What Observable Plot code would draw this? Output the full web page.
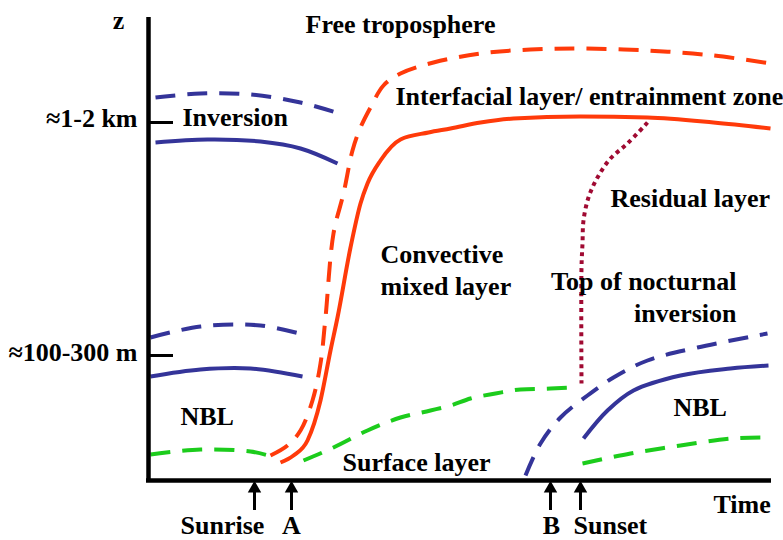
<!DOCTYPE html>
<html>
<head>
<meta charset="utf-8">
<script src="https://cdn.jsdelivr.net/npm/d3@7"></script>
<script src="https://cdn.jsdelivr.net/npm/@observablehq/plot@0.6"></script>
<style>
  html, body { margin: 0; padding: 0; background: #fff; }
  svg { overflow: visible; display: block; }
</style>
</head>
<body>
<div id="chart"></div>
<script>
// Schematic curves: [time, height] in arbitrary units
const inversionTopDay = [[7,383],[52,387],[102,386],[152,378],[194,366]];
const inversionBaseDay = [[7,338],[59,341],[112,339],[152,332],[189,317]];
const nblTopMorning = [[2,143],[52,154],[112,155],[155,146]];
const nblBaseMorning = [[2,104],[52,111],[102,112],[154,104]];
const surfaceMorning = [[2,26],[52,31],[102,29],[120,25]];
const entrainmentTop = [[122,25],[139,35],[152,50],[164,80],[172,117],[177,163],[185,247],[195,287],[204,330],[212,353],[222,373],[235,395],[252,407],[285,418],[332,427],[382,431],[432,432],[499,430],[565,425],[622,417]];
const mixedLayerTop = [[132,18],[145,25],[159,40],[172,80],[182,130],[189,163],[202,233],[212,277],[219,297],[232,320],[252,341],[280,348],[302,352],[332,358],[365,362],[432,364],[499,363],[565,358],[622,352]];
const residualTop = [[499,358],[479,337],[462,322],[449,303],[440,283],[435,260],[434,237],[433,213],[433,97]];
const surfaceDay = [[155,20],[185,33],[219,50],[252,63],[282,70],[302,75],[322,82],[347,87],[372,91],[402,92],[424,93]];
const nocturnalTopEvening = [[377,5],[392,37],[412,63],[439,85],[465,103],[499,120],[549,133],[619,147]];
const nblTopEvening = [[435,42],[459,70],[485,90],[532,105],[582,112],[620,115]];
const surfaceEvening = [[434,17],[482,27],[532,35],[582,42],[620,43]];

// Axis ticks (height) and their labels
const tickHeights = [358, 125];
const tickLabels = ["≈1-2 km", "≈100-300 m"];
const tickLabelHeights = [364, 130];

// Time markers
const markerTimes = [106, 143, 402, 432];
const markerNames = ["Sunrise", "A", "B", "Sunset"];
const markerLabelTimes = [32, 143, 403, 425];
const markerAnchors = ["start", "middle", "middle", "start"];

// Region labels
const labelTexts = ["z", "Free troposphere", "Inversion", "Interfacial layer/ entrainment zone", "Residual layer", "Convective\nmixed layer", "Top of nocturnal\ninversion", "NBL", "NBL", "Surface layer", "Time"];
const labelTimes = [-30, 252, 34, 247, 462, 232, 588, 32, 525, 194, 565];
const labelHeights = [462, 458, 365, 386, 284, 212, 185, 66, 75, 20, -22];
const labelAnchors = ["middle", "middle", "start", "start", "start", "start", "end", "start", "start", "start", "start"];

const labels = labelTexts.map((t, i) => ({text: t, t: labelTimes[i], z: labelHeights[i], anchor: labelAnchors[i]}))
  .concat(tickLabels.map((t, i) => ({text: t, t: -11, z: tickLabelHeights[i], anchor: "end"})))
  .concat(markerNames.map((t, i) => ({text: t, t: markerLabelTimes[i], z: -43, anchor: markerAnchors[i]})));

const BLUE = "#343499", RED = "#ff3a0a", GREEN = "#1ccc1c", DARKRED = "#a00a32";
const font = {fontFamily: "Liberation Serif, Times New Roman, serif", fontWeight: "bold", fontSize: 26, fill: "#000"};
const curve = (data, stroke, dash, c = "catmull-rom") => Plot.line(data, {x: d => d[0], y: d => d[1], curve: c, stroke, strokeWidth: 4, strokeDasharray: dash, strokeLinecap: "butt"});

const textMarks = ["start", "middle", "end"].map(a =>
  Plot.text(labels.filter(d => d.anchor === a), {x: "t", y: "z", text: "text", textAnchor: a, lineHeight: 1.25, ...font}));

const chart = Plot.plot({
  width: 783,
  height: 540,
  marginLeft: 148,
  marginRight: 12,
  marginTop: 17,
  marginBottom: 60,
  x: {domain: [0, 623], axis: null},
  y: {domain: [0, 463], axis: null},
  style: {background: "#fff", overflow: "visible"},
  marks: [
    curve(inversionTopDay, BLUE, "20,12"),
    curve(inversionBaseDay, BLUE, null),
    curve(nblTopMorning, BLUE, "20,12"),
    curve(nblBaseMorning, BLUE, null),
    curve(surfaceMorning, GREEN, "20,12"),
    curve(entrainmentTop, RED, "20,12"),
    curve(mixedLayerTop, RED, null, "monotone-x"),
    curve(residualTop, DARKRED, "4,4"),
    curve(surfaceDay, GREEN, "20,12", "monotone-x"),
    curve(nocturnalTopEvening, BLUE, "20,12"),
    curve(nblTopEvening, BLUE, null),
    curve(surfaceEvening, GREEN, "20,12"),
    // axes
    Plot.ruleX([0], {y1: -2, y2: 463, stroke: "#000", strokeWidth: 4.5}),
    Plot.ruleY([0], {x1: -2, x2: 623, stroke: "#000", strokeWidth: 4.5}),
    Plot.ruleY(tickHeights, {x1: 0, x2: 25, stroke: "#000", strokeWidth: 3}),
    // time marker arrows
    Plot.ruleX(markerTimes, {y1: -30, y2: -8, stroke: "#000", strokeWidth: 3}),
    Plot.dot(markerTimes, {x: d => d, y: -8, symbol: "triangle", r: 5, fill: "#000", stroke: null}),
    ...textMarks
  ]
});
document.getElementById("chart").appendChild(chart);
</script>
</body>
</html>
